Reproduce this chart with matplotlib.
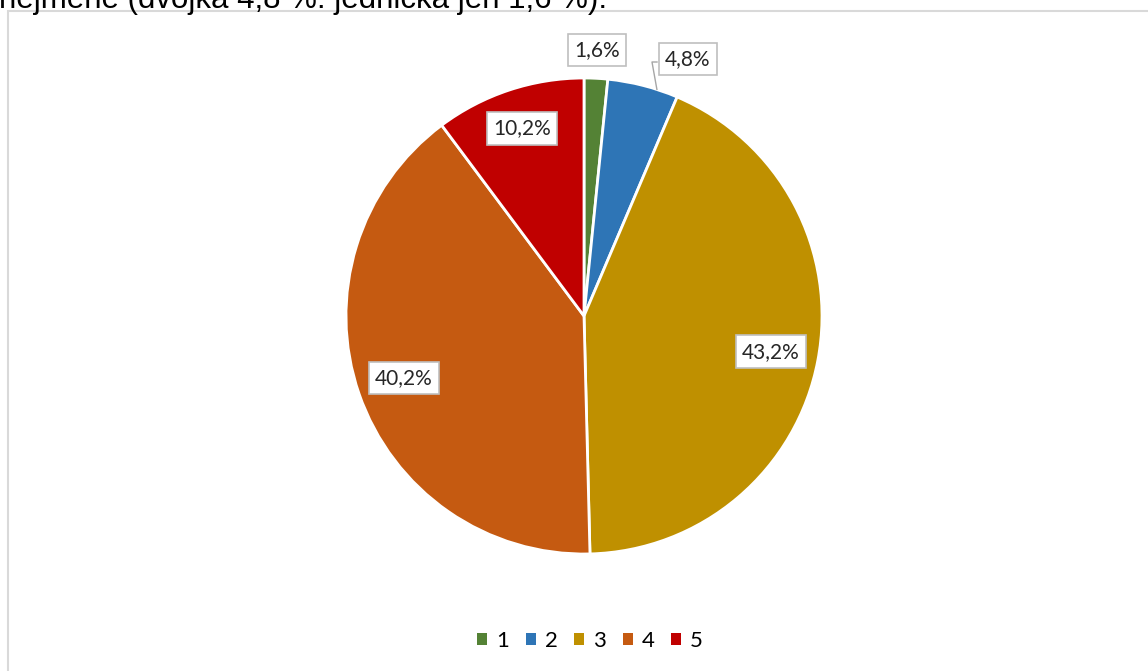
import numpy as np
import matplotlib
matplotlib.use("Agg")
from matplotlib import pyplot as plt
from matplotlib.patches import Rectangle

# data
znamky = ["1", "2", "3", "4", "5"]
podily = [1.6, 4.8, 43.2, 40.2, 10.2]
barvy = ["#548235", "#2E75B6", "#BF9000", "#C55A11", "#C00000"]
popisky = ["1,6%", "4,8%", "43,2%", "40,2%", "10,2%"]

W, H = 1148, 671
fig = plt.figure(figsize=(W / 100, H / 100), dpi=100)
ax = fig.add_axes([0, 0, 1, 1])

cx, cy, r = 584, H - 316, 238
wedges, _ = ax.pie(podily, colors=barvy, startangle=90, counterclock=False,
                   center=(cx, cy), radius=r,
                   wedgeprops=dict(edgecolor="white", linewidth=2))
ax.set_xlim(0, W)
ax.set_ylim(0, H)
ax.set_aspect("equal")
ax.axis("off")

# ramecek grafu
ax.add_patch(Rectangle((8, -5), W, H - 11 + 5, fill=False,
                       edgecolor="#D9D9D9", linewidth=1.5, zorder=0))

# popisky dat
vzdal = [1.12, 1.12, 0.80, 0.80, 0.83]
box = dict(boxstyle="square,pad=0.3", facecolor="white", edgecolor="#BFBFBF", linewidth=1.2)
for i, (w, txt) in enumerate(zip(wedges, popisky)):
    a = np.deg2rad((w.theta1 + w.theta2) / 2)
    x = cx + vzdal[i] * r * np.cos(a)
    y = cy + vzdal[i] * r * np.sin(a)
    if i == 1:
        x, y = 688, H - 59
        ex = cx + r * np.cos(a - 0.06)
        ey = cy + r * np.sin(a - 0.06)
        ax.plot([ex, 652, 657], [ey, H - 62, H - 62], color="#A6A6A6", linewidth=1)
    ax.text(x, y, txt, ha="center", va="center", fontsize=15, family="Lato",
            color="#262626", bbox=box)

# legenda
leg = ax.legend(wedges, znamky, loc="center", bbox_to_anchor=(590 / W, 1 - 641 / H),
                ncol=5, frameon=False, handlelength=0.45, handleheight=0.45,
                handletextpad=0.4, columnspacing=0.75,
                prop=dict(family="Lato", size=16))
for h in leg.legend_handles:
    h.set_edgecolor("none")

# oriznuty text nad grafem
fig.text(607 / W, 1 - 8 / H, "nejméně (dvojka 4,8 %. jednička jen 1,6 %).",
         ha="right", va="baseline", fontsize=22.5, family="Liberation Sans", color="black")

fig.savefig("out.png", dpi=100)
